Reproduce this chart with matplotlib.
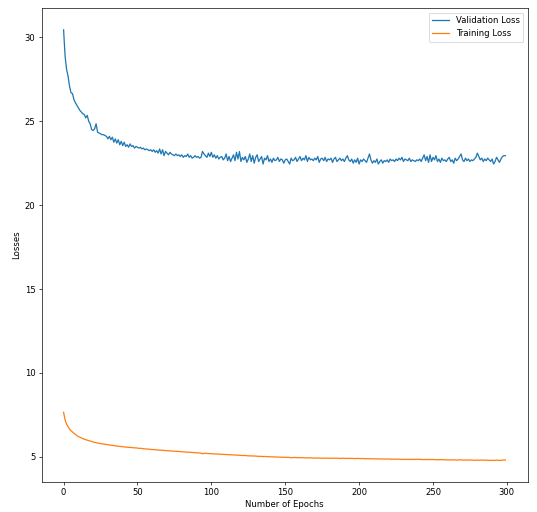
import numpy as np
import matplotlib
matplotlib.use('Agg')
from matplotlib import pyplot as plt

# Validation loss per epoch
val_loss = [
    30.45, 28.9, 28.1, 27.7, 27.1, 26.7, 26.65, 26.3, 26.1, 25.95,
    25.8, 25.65, 25.55, 25.45, 25.4, 25.2, 25.35, 25.0, 24.85, 24.5,
    24.45, 24.55, 24.85, 24.35, 24.3, 24.25, 24.2, 24.2, 24.15, 24.1,
    23.95, 24.1, 23.9, 24.05, 23.75, 23.95, 23.7, 23.9, 23.6, 23.8,
    23.55, 23.75, 23.5, 23.6, 23.45, 23.65, 23.5, 23.55, 23.4, 23.5,
    23.45, 23.4, 23.45, 23.35, 23.4, 23.3, 23.35, 23.3, 23.25, 23.3,
    23.2, 23.3, 23.15, 23.25, 23.1, 23.35, 23.05, 23.3, 22.95, 23.2,
    23.1, 23.0, 23.15, 23.05, 23.0, 22.95, 23.05, 22.95, 23.0, 22.9,
    23.0, 22.85, 22.95, 22.9, 23.05, 22.85, 22.95, 22.8, 22.85, 22.95,
    22.85, 22.9, 22.8, 22.85, 23.2, 23.05, 22.95, 22.85, 23.1, 22.9,
    23.15, 22.85, 23.0, 22.8, 22.95, 22.75, 22.85, 22.9, 22.7, 22.8,
    23.05, 22.65, 22.9, 22.6, 22.8, 23.0, 22.65, 23.15, 22.75, 23.2,
    22.6, 22.85, 22.7, 22.9, 22.55, 22.75, 23.05, 22.6, 22.95, 22.5,
    22.85, 23.0, 22.6, 22.75, 22.9, 22.45, 22.8, 22.7, 22.95, 22.6,
    22.75, 22.55, 22.8, 22.65, 22.7, 22.85, 22.6, 22.75, 22.7, 22.5,
    22.7, 22.75, 22.6, 22.45, 22.8, 22.65, 22.7, 22.85, 22.6, 22.75,
    22.9, 22.65, 22.8, 22.7, 22.95, 22.6, 22.85, 22.7, 22.75, 22.65,
    22.8, 22.7, 22.9, 22.55, 22.75, 22.8, 22.65, 22.85, 22.6, 22.75,
    22.7, 22.8, 22.55, 22.75, 22.85, 22.6, 22.7, 22.8, 22.65, 22.75,
    22.6, 22.8, 22.95, 22.7, 22.6, 22.75, 22.5, 22.7, 22.55, 22.8,
    22.45, 22.7, 22.6, 22.75, 22.65, 22.55, 22.8, 23.05, 22.7, 22.5,
    22.65, 22.55, 22.75, 22.45, 22.6, 22.7, 22.5, 22.65, 22.6, 22.7,
    22.55, 22.75, 22.65, 22.7, 22.6, 22.75, 22.65, 22.8, 22.7, 22.85,
    22.6, 22.75, 22.7, 22.65, 22.8, 22.6, 22.7, 22.65, 22.6, 22.7,
    22.65, 22.75, 22.6, 22.8, 23.0, 22.65, 22.9, 22.55, 23.0, 22.6,
    22.85, 22.7, 22.95, 22.6, 22.75, 22.55, 22.8, 22.65, 22.7, 22.6,
    22.75, 22.85, 22.6, 22.7, 22.5, 22.8, 22.65, 22.75, 22.9, 23.05,
    22.7, 22.6, 22.8, 22.65, 22.75, 22.6, 22.7, 22.65, 22.75, 22.85,
    23.1, 22.9, 22.7, 22.8, 22.6, 22.75, 22.65, 22.8, 22.7, 22.6,
    22.75, 22.45, 22.6, 22.85, 22.7, 22.55, 22.75, 22.9, 22.95, 22.95,
]

# Training loss per epoch
train_loss = [
    7.65, 7.2, 6.95, 6.8, 6.65, 6.55, 6.48, 6.4, 6.33, 6.27,
    6.2, 6.17, 6.12, 6.08, 6.05, 6.02, 5.99, 5.96, 5.94, 5.91,
    5.88, 5.86, 5.84, 5.82, 5.8, 5.79, 5.77, 5.76, 5.74, 5.73,
    5.72, 5.7, 5.69, 5.68, 5.67, 5.65, 5.64, 5.63, 5.62, 5.61,
    5.6, 5.59, 5.58, 5.57, 5.56, 5.56, 5.55, 5.54, 5.53, 5.53,
    5.52, 5.5, 5.51, 5.49, 5.48, 5.47, 5.46, 5.46, 5.45, 5.44,
    5.43, 5.43, 5.42, 5.41, 5.4, 5.4, 5.39, 5.38, 5.38, 5.37,
    5.36, 5.36, 5.35, 5.34, 5.34, 5.33, 5.32, 5.33, 5.31, 5.31,
    5.3, 5.29, 5.29, 5.28, 5.27, 5.28, 5.26, 5.26, 5.25, 5.24,
    5.24, 5.23, 5.23, 5.22, 5.18, 5.21, 5.2, 5.2, 5.19, 5.19,
    5.18, 5.18, 5.17, 5.17, 5.16, 5.16, 5.15, 5.15, 5.14, 5.14,
    5.13, 5.13, 5.12, 5.12, 5.11, 5.11, 5.1, 5.11, 5.09, 5.09,
    5.08, 5.08, 5.07, 5.08, 5.06, 5.06, 5.05, 5.06, 5.04, 5.05,
    5.04, 5.03, 5.03, 5.02, 5.03, 5.01, 5.02, 5.01, 5.0, 5.01,
    5.0, 4.99, 5.0, 4.98, 4.99, 4.98, 4.98, 4.97, 4.98, 4.97,
    4.97, 4.96, 4.97, 4.96, 4.93, 4.96, 4.95, 4.96, 4.95, 4.95,
    4.94, 4.95, 4.94, 4.94, 4.93, 4.94, 4.93, 4.94, 4.93, 4.92,
    4.93, 4.92, 4.93, 4.92, 4.92, 4.91, 4.92, 4.91, 4.92, 4.91,
    4.92, 4.91, 4.92, 4.91, 4.91, 4.92, 4.91, 4.9, 4.91, 4.91,
    4.91, 4.9, 4.91, 4.9, 4.9, 4.91, 4.9, 4.89, 4.9, 4.9,
    4.9, 4.89, 4.9, 4.89, 4.88, 4.89, 4.88, 4.89, 4.88, 4.88,
    4.87, 4.88, 4.87, 4.88, 4.87, 4.86, 4.87, 4.86, 4.87, 4.86,
    4.87, 4.86, 4.85, 4.86, 4.85, 4.86, 4.85, 4.86, 4.85, 4.84,
    4.85, 4.84, 4.85, 4.84, 4.85, 4.84, 4.84, 4.85, 4.84, 4.85,
    4.84, 4.85, 4.84, 4.83, 4.84, 4.83, 4.84, 4.83, 4.84, 4.83,
    4.84, 4.83, 4.82, 4.83, 4.82, 4.83, 4.82, 4.83, 4.82, 4.81,
    4.82, 4.81, 4.82, 4.81, 4.82, 4.81, 4.8, 4.81, 4.82, 4.81,
    4.81, 4.8, 4.81, 4.8, 4.81, 4.8, 4.81, 4.8, 4.79, 4.8,
    4.8, 4.79, 4.8, 4.81, 4.79, 4.8, 4.79, 4.8, 4.78, 4.79,
    4.79, 4.78, 4.79, 4.8, 4.79, 4.78, 4.79, 4.8, 4.81, 4.81,
]

epochs = np.arange(len(val_loss))

# reference looks like a 72 dpi figure shrunk a bit, so render at 61 dpi
dpi = 61
fig = plt.figure(figsize=(537 / dpi, 512 / dpi), dpi=dpi)
ax = fig.add_axes([41.5 / 537, 30 / 512, 486 / 537, 473.7 / 512])

ax.plot(epochs, val_loss, label='Validation Loss')
ax.plot(epochs, train_loss, label='Training Loss')

ax.set_xlabel('Number of Epochs')
ax.set_ylabel('Losses')
ax.legend(loc='upper right')

fig.savefig('out.png', dpi=dpi)
